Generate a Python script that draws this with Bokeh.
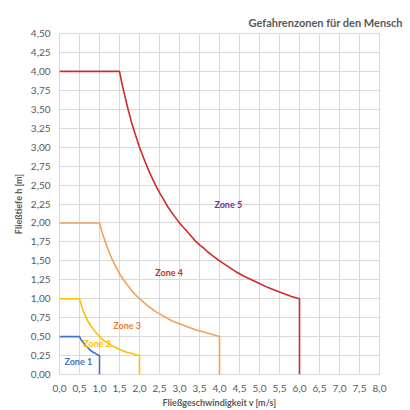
from bokeh.plotting import figure
from bokeh.models import FixedTicker, Label
from bokeh.embed import file_html
from bokeh.resources import INLINE

# Hazard zones for people: flow velocity v [m/s] vs. water depth h [m]
zone1_v = [0.0, 0.5, 0.55, 0.6, 0.65, 0.7, 0.75, 0.8, 0.85, 0.9, 0.95, 1.0, 1.0]
zone1_h = [0.5, 0.5, 0.45, 0.42, 0.38, 0.36, 0.33, 0.31, 0.29, 0.28, 0.26, 0.25, 0.0]

zone2_v = [0.0, 0.5, 0.55, 0.6, 0.65, 0.7, 0.75, 0.8, 0.9, 1.0, 1.1, 1.2, 1.3, 1.4,
           1.5, 1.6, 1.7, 1.8, 1.9, 2.0, 2.0]
zone2_h = [1.0, 1.0, 0.91, 0.83, 0.77, 0.71, 0.67, 0.63, 0.56, 0.5, 0.45, 0.42, 0.38, 0.36,
           0.33, 0.31, 0.29, 0.28, 0.26, 0.25, 0.0]

zone3_v = [0.0, 1.0, 1.05, 1.1, 1.2, 1.3, 1.4, 1.5, 1.6, 1.7, 1.8, 1.9, 2.0, 2.2, 2.4,
           2.6, 2.8, 3.0, 3.2, 3.4, 3.6, 3.8, 4.0, 4.0]
zone3_h = [2.0, 2.0, 1.9, 1.82, 1.67, 1.54, 1.43, 1.33, 1.25, 1.18, 1.11, 1.05, 1.0, 0.91,
           0.83, 0.77, 0.71, 0.67, 0.63, 0.59, 0.56, 0.53, 0.5, 0.0]

zone4_v = [0.0, 1.5, 1.55, 1.6, 1.7, 1.8, 1.9, 2.0, 2.1, 2.2, 2.3, 2.4, 2.5, 2.6, 2.7, 2.8,
           2.9, 3.0, 3.1, 3.2, 3.3, 3.4, 3.5, 3.6, 3.7, 3.8, 3.9, 4.0, 4.2, 4.4, 4.6, 4.8,
           5.0, 5.2, 5.4, 5.6, 5.8, 6.0, 6.0]
zone4_h = [4.0, 4.0, 3.87, 3.75, 3.53, 3.33, 3.16, 3.0, 2.86, 2.73, 2.61, 2.5, 2.4, 2.31, 2.22, 2.14,
           2.07, 2.0, 1.94, 1.88, 1.82, 1.76, 1.71, 1.67, 1.62, 1.58, 1.54, 1.5, 1.43, 1.36, 1.3, 1.25,
           1.2, 1.15, 1.11, 1.07, 1.03, 1.0, 0.0]

zone_names = ["Zone 1", "Zone 2", "Zone 3", "Zone 4", "Zone 5"]
zone_label_v = [0.47, 0.94, 1.69, 2.74, 4.22]
zone_label_h = [0.17, 0.41, 0.65, 1.35, 2.24]

x_ticks = [i * 0.5 for i in range(17)]
x_tick_labels = ["0,0", "0,5", "1,0", "1,5", "2,0", "2,5", "3,0", "3,5", "4,0",
                 "4,5", "5,0", "5,5", "6,0", "6,5", "7,0", "7,5", "8,0"]
y_ticks = [i * 0.25 for i in range(19)]
y_tick_labels = ["0,00", "0,25", "0,50", "0,75", "1,00", "1,25", "1,50", "1,75", "2,00",
                 "2,25", "2,50", "2,75", "3,00", "3,25", "3,50", "3,75", "4,00", "4,25", "4,50"]

line_colors = ["#4472C4", "#FFC000", "#F4A05A", "#D02A2A"]
text_colors = ["#4472C4", "#FFC000", "#ED7D31", "#D02A2A", "#7030A0"]
FONT = "Lato"
GREY = "#595959"

p = figure(width=410, height=410, x_range=(0, 8), y_range=(0, 4.5),
           output_backend="svg", toolbar_location=None,
           min_border_left=59, min_border_right=31, min_border_top=33, min_border_bottom=36)
p.background_fill_color = "white"
p.border_fill_color = "white"
p.outline_line_color = "#D9D9D9"

p.title.text = "Gefahrenzonen für den Mensch"
p.title.align = "left"
p.title.offset = 189
p.title.text_font = FONT
p.title.text_font_size = "11px"
p.title.text_font_style = "bold"
p.title.text_color = GREY
p.title.standoff = 10

p.xaxis.ticker = FixedTicker(ticks=x_ticks)
p.yaxis.ticker = FixedTicker(ticks=y_ticks)
p.xaxis.major_label_overrides = {t: s for t, s in zip(x_ticks, x_tick_labels)}
p.yaxis.major_label_overrides = {t: s for t, s in zip(y_ticks, y_tick_labels)}

for ax in (p.xaxis, p.yaxis):
    ax.axis_line_color = None
    ax.major_tick_line_color = None
    ax.minor_tick_line_color = None
    ax.major_tick_out = 0
    ax.major_tick_in = 0
    ax.major_label_text_font = FONT
    ax.major_label_text_font_size = "10px"
    ax.major_label_text_color = GREY
    ax.axis_label_text_font = FONT
    ax.axis_label_text_font_size = "9px"
    ax.axis_label_text_font_style = "bold"
    ax.axis_label_text_color = GREY

p.xaxis.axis_label = "Fließgeschwindigkeit v [m/s]"
p.yaxis.axis_label = "Fließtiefe h [m]"
p.xaxis.major_label_standoff = 10
p.yaxis.major_label_standoff = 9
p.xaxis.axis_label_standoff = 2
p.yaxis.axis_label_standoff = 4

p.xgrid.grid_line_color = "#D9D9D9"
p.ygrid.grid_line_color = "#D9D9D9"

for vs, hs, c in zip([zone1_v, zone2_v, zone3_v, zone4_v],
                     [zone1_h, zone2_h, zone3_h, zone4_h], line_colors):
    p.line(vs, hs, line_color=c, line_width=1.6, line_join="round")

for name, v, h, c in zip(zone_names, zone_label_v, zone_label_h, text_colors):
    p.add_layout(Label(x=v, y=h, text=name, text_color=c, text_font=FONT,
                       text_font_size="9px", text_font_style="bold",
                       text_align="center", text_baseline="middle"))

open("out.html", "w").write(file_html(p, INLINE))
